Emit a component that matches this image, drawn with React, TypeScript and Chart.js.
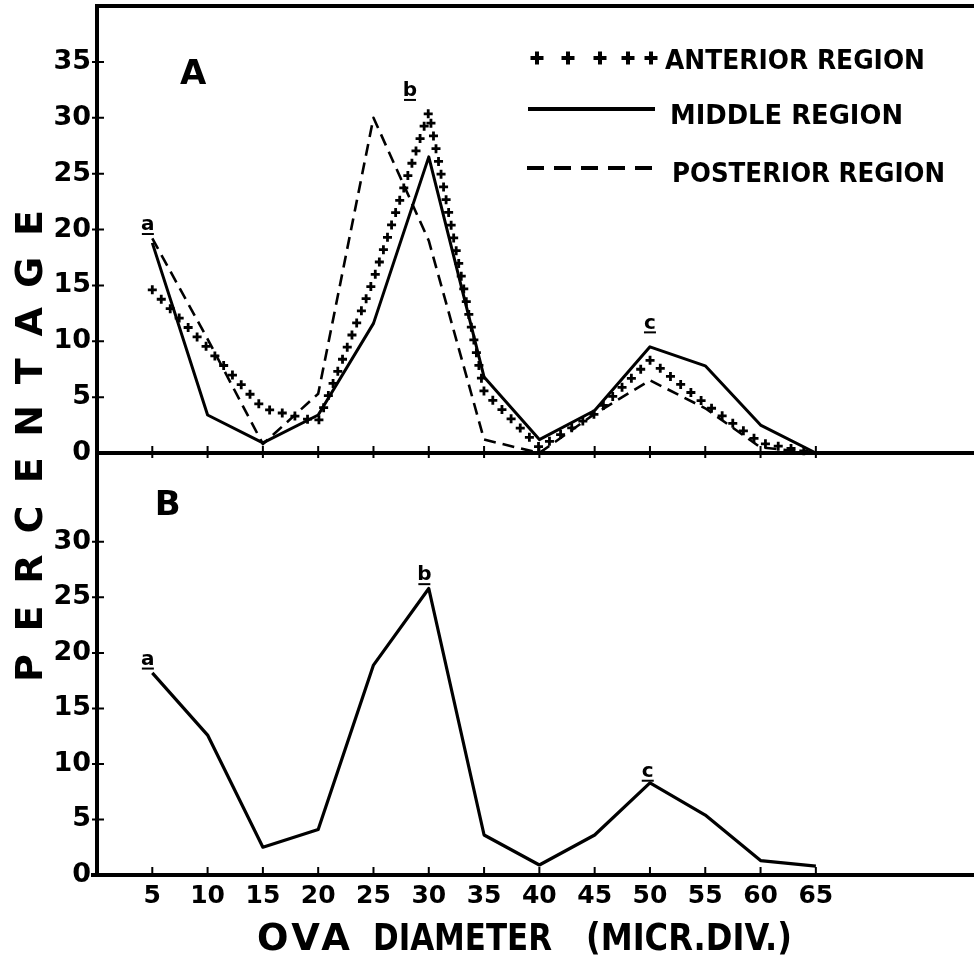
import React, { useEffect, useRef } from 'react';
import { Chart, registerables } from 'chart.js';

Chart.register(...registerables);

// ---- data ----
const diameters = [5, 10, 15, 20, 25, 30, 35, 40, 45, 50, 55, 60, 65];
const anteriorA = [14.6, 9.4, 4.0, 2.8, 15.5, 30.5, 5.5, 0.5, 3.5, 8.3, 4.4, 0.9, 0];
const middleA = [18.8, 3.4, 0.9, 3.4, 11.6, 26.5, 6.8, 1.2, 3.8, 9.5, 7.8, 2.5, 0];
const posteriorA = [19.2, 10.2, 0.8, 5.3, 30.0, 19.0, 1.2, 0, 3.5, 6.5, 4.0, 0.5, 0];
const wholeB = [18.2, 12.6, 2.5, 4.1, 18.9, 25.8, 3.6, 0.9, 3.6, 8.3, 5.4, 1.3, 0.8];

const seriesLabels = ['ANTERIOR REGION', 'MIDDLE REGION', 'POSTERIOR REGION'];
const xTickLabels = [5, 10, 15, 20, 25, 30, 35, 40, 45, 50, 55, 60, 65];
const yTicksA = [0, 5, 10, 15, 20, 25, 30, 35];
const yTicksB = [0, 5, 10, 15, 20, 25, 30];
const panelNames = ['A', 'B'];
const peakNamesA = [
  { t: 'a', x: 4.6, y: 20.4 },
  { t: 'b', x: 28.3, y: 32.4 },
  { t: 'c', x: 50.0, y: 11.6 },
];
const peakNamesB = [
  { t: 'a', x: 4.6, y: 19.4 },
  { t: 'b', x: 29.6, y: 27.0 },
  { t: 'c', x: 49.8, y: 9.3 },
];
const yTitle = 'PERCENTAGE';
const xTitleParts = ['OVA', 'DIAMETER', '(MICR.DIV.)'];

const FAM = '"DejaVu Sans", "Liberation Sans", sans-serif';

function pts(arr: number[]) {
  return diameters.map((d, i) => ({ x: d, y: arr[i] }));
}

function plus(ctx: CanvasRenderingContext2D, x: number, y: number, r: number) {
  ctx.beginPath();
  ctx.moveTo(x - r, y);
  ctx.lineTo(x + r, y);
  ctx.moveTo(x, y - r);
  ctx.lineTo(x, y + r);
  ctx.stroke();
}

function fitText(ctx: CanvasRenderingContext2D, text: string, x: number, y: number, w: number) {
  const m = ctx.measureText(text).width;
  ctx.textAlign = 'left';
  if (m > w) {
    ctx.fillText(text, x, y, w);
  } else {
    const n = Math.max(1, text.length - 1);
    (ctx as any).letterSpacing = ((w - m) / n).toFixed(2) + 'px';
    ctx.fillText(text, x, y);
    (ctx as any).letterSpacing = '0px';
  }
}

const noPad = (s: any) => {
  s.paddingTop = 0;
  s.paddingBottom = 0;
  s.paddingLeft = 0;
  s.paddingRight = 0;
};

const decorPlugin = {
  id: 'decor',
  afterDatasetsDraw(chart: any) {
    const ctx: CanvasRenderingContext2D = chart.ctx;
    // anterior region: plus marks along its polyline
    const meta = chart.getDatasetMeta(0);
    const p = meta.data.map((e: any) => ({ x: e.x, y: e.y }));
    ctx.save();
    ctx.strokeStyle = '#000';
    ctx.lineWidth = 2.8;
    ctx.lineCap = 'butt';
    const spacing = 13;
    plus(ctx, p[0].x, p[0].y, 4.5);
    let pos = spacing;
    for (let i = 0; i < p.length - 1; i++) {
      const dx = p[i + 1].x - p[i].x;
      const dy = p[i + 1].y - p[i].y;
      const len = Math.hypot(dx, dy);
      while (pos <= len) {
        plus(ctx, p[i].x + (dx * pos) / len, p[i].y + (dy * pos) / len, 4.5);
        pos += spacing;
      }
      pos -= len;
    }
    ctx.restore();
  },
  afterDraw(chart: any) {
    const ctx: CanvasRenderingContext2D = chart.ctx;
    const ca = chart.chartArea;
    const sx = chart.scales.x;
    const yA = chart.scales.yA;
    const yB = chart.scales.yB;
    ctx.save();
    ctx.strokeStyle = '#000';
    ctx.fillStyle = '#000';
    ctx.lineCap = 'butt';

    // frame lines
    ctx.lineWidth = 4;
    ctx.beginPath();
    ctx.moveTo(ca.left - 2, ca.top);
    ctx.lineTo(ca.right, ca.top);
    const zA = yA.getPixelForValue(0);
    const zB = yB.getPixelForValue(0);
    ctx.moveTo(ca.left, zA);
    ctx.lineTo(ca.right, zA);
    ctx.moveTo(ca.left - 6, zB);
    ctx.lineTo(ca.right, zB);
    ctx.stroke();

    // x tick marks
    ctx.lineWidth = 2;
    ctx.beginPath();
    for (const v of xTickLabels) {
      const px = sx.getPixelForValue(v);
      ctx.moveTo(px, zA - 7);
      ctx.lineTo(px, zA + 5);
      ctx.moveTo(px, zB - 8);
      ctx.lineTo(px, zB + 2);
    }
    // y tick marks
    for (const v of yTicksA) {
      if (v === 0) continue;
      const py = yA.getPixelForValue(v);
      ctx.moveTo(ca.left - 5, py);
      ctx.lineTo(ca.left + 7, py);
    }
    for (const v of yTicksB) {
      if (v === 0) continue;
      const py = yB.getPixelForValue(v);
      ctx.moveTo(ca.left - 5, py);
      ctx.lineTo(ca.left + 7, py);
    }
    ctx.stroke();

    // panel letters
    ctx.font = `bold 34px ${FAM}`;
    ctx.textAlign = 'center';
    ctx.textBaseline = 'middle';
    ctx.fillText(panelNames[0], sx.getPixelForValue(8.7), yA.getPixelForValue(33.8));
    ctx.fillText(panelNames[1], sx.getPixelForValue(6.4), yB.getPixelForValue(33.2));

    // peak letters (underlined)
    ctx.font = `bold 20px ${FAM}`;
    const drawPeak = (m: any, sc: any) => {
      const px = sx.getPixelForValue(m.x);
      const py = sc.getPixelForValue(m.y);
      ctx.textAlign = 'center';
      ctx.textBaseline = 'middle';
      ctx.fillText(m.t, px, py);
      ctx.lineWidth = 2;
      ctx.beginPath();
      ctx.moveTo(px - 6, py + 9);
      ctx.lineTo(px + 6, py + 9);
      ctx.stroke();
    };
    peakNamesA.forEach((m) => drawPeak(m, yA));
    peakNamesB.forEach((m) => drawPeak(m, yB));

    // legend
    const ds = chart.data.datasets;
    const lx0 = 527;
    const lx1 = 657;
    const rows = [62, 117, 175];
    // anterior: plus marks
    ctx.lineWidth = 4;
    [537, 568, 600, 628, 651].forEach((x) => plus(ctx, x, rows[0] - 4, 6.5));
    // middle: solid
    ctx.lineWidth = 4;
    ctx.setLineDash([]);
    ctx.beginPath();
    ctx.moveTo(lx0 + 1, rows[1] - 8);
    ctx.lineTo(lx1 - 2, rows[1] - 8);
    ctx.stroke();
    // posterior: dashed
    ctx.setLineDash([17, 10]);
    ctx.beginPath();
    ctx.moveTo(lx0, rows[2] - 7);
    ctx.lineTo(lx1 + 1, rows[2] - 7);
    ctx.stroke();
    ctx.setLineDash([]);
    ctx.font = `bold 27px ${FAM}`;
    ctx.textBaseline = 'middle';
    fitText(ctx, ds[0].label, 665, rows[0], 260);
    fitText(ctx, ds[1].label, 670, rows[1], 233);
    fitText(ctx, ds[2].label, 672, rows[2], 273);

    // x title
    ctx.font = `bold 37px ${FAM}`;
    ctx.textBaseline = 'middle';
    fitText(ctx, xTitleParts[0], 257, 940, 93);
    fitText(ctx, xTitleParts[1], 373, 940, 179);
    fitText(ctx, xTitleParts[2], 586, 940, 206);

    // y title, letters spaced along both panels
    ctx.font = `bold 38px ${FAM}`;
    ctx.textAlign = 'center';
    ctx.textBaseline = 'middle';
    const n = yTitle.length;
    const yBottom = 668;
    const yTop = 223;
    for (let i = 0; i < n; i++) {
      const cy = yBottom - ((yBottom - yTop) * i) / (n - 1);
      ctx.save();
      ctx.translate(31, cy);
      ctx.rotate(-Math.PI / 2);
      ctx.fillText(yTitle[i], 0, 1);
      ctx.restore();
    }
    ctx.restore();
  },
};

export default function App() {
  const ref = useRef<HTMLCanvasElement | null>(null);
  useEffect(() => {
    if (!ref.current) return;
    const tickFont = { family: FAM, size: 27, weight: 'bold' as const };
    const chart = new Chart(ref.current, {
      type: 'line',
      data: {
        datasets: [
          {
            label: seriesLabels[0],
            data: pts(anteriorA),
            yAxisID: 'yA',
            borderColor: 'rgba(0,0,0,0)',
            borderWidth: 1,
            pointRadius: 0,
          },
          {
            label: seriesLabels[1],
            data: pts(middleA),
            yAxisID: 'yA',
            borderColor: '#000',
            borderWidth: 3,
            pointRadius: 0,
          },
          {
            label: seriesLabels[2],
            data: pts(posteriorA),
            yAxisID: 'yA',
            borderColor: '#000',
            borderWidth: 2.6,
            borderDash: [12, 7],
            pointRadius: 0,
          },
          {
            label: 'B',
            data: pts(wholeB),
            yAxisID: 'yB',
            borderColor: '#000',
            borderWidth: 3.2,
            pointRadius: 0,
          },
        ],
      },
      options: {
        animation: false,
        responsive: false,
        devicePixelRatio: 1,
        layout: { padding: { top: 6, left: 0, right: 0, bottom: 0 } },
        elements: { line: { tension: 0, borderJoinStyle: 'round' } },
        plugins: {
          legend: { display: false },
          tooltip: { enabled: false },
        },
        scales: {
          x: {
            type: 'linear',
            min: 0,
            max: 79.3,
            ticks: {
              stepSize: 5,
              autoSkip: false,
              maxRotation: 0,
              color: '#000',
              padding: 6,
              font: { family: FAM, size: 25, weight: 'bold' },
              callback: (v: any) => (xTickLabels.includes(v) ? String(v) : null),
            },
            grid: { display: false, drawTicks: false },
            border: { display: false },
            afterFit: (s: any) => {
              s.height = 85;
              noPad(s);
            },
          },
          yB: {
            type: 'linear',
            position: 'left',
            stack: 'panels',
            stackWeight: 422,
            min: 0,
            max: 38,
            ticks: {
              stepSize: 5,
              autoSkip: false,
              color: '#000',
              padding: 6,
              font: tickFont,
              callback: (v: any) => (yTicksB.includes(v) ? String(v) : null),
            },
            grid: { display: false, drawTicks: false },
            border: { display: true, color: '#000', width: 4 },
            afterFit: (s: any) => {
              s.width = 97;
              noPad(s);
            },
          },
          yA: {
            type: 'linear',
            position: 'left',
            stack: 'panels',
            stackWeight: 447,
            min: 0,
            max: 40,
            ticks: {
              stepSize: 5,
              autoSkip: false,
              color: '#000',
              padding: 6,
              font: tickFont,
              callback: (v: any) => (yTicksA.includes(v) ? String(v) : null),
            },
            grid: { display: false, drawTicks: false },
            border: { display: true, color: '#000', width: 4 },
            afterFit: (s: any) => {
              s.width = 97;
              noPad(s);
            },
          },
        },
      },
      plugins: [decorPlugin],
    } as any);
    return () => chart.destroy();
  }, []);
  return (
    <div style={{ position: 'absolute', left: 0, top: 0, width: 974, height: 960, background: '#fff' }}>
      <canvas ref={ref} width={974} height={960} style={{ display: 'block' }} />
    </div>
  );
}
